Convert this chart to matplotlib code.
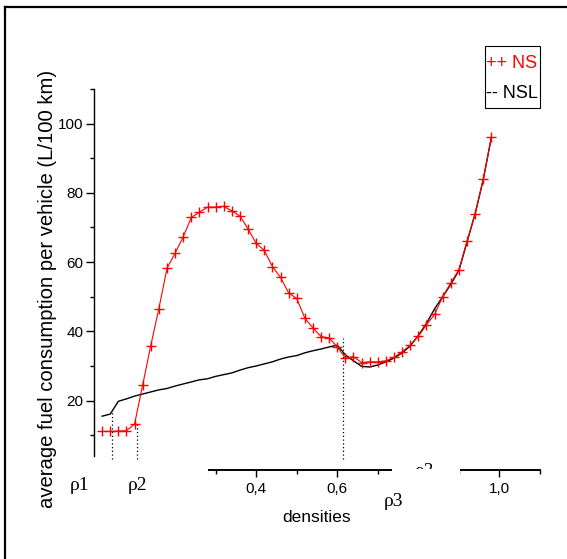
import matplotlib
matplotlib.use("Agg")
import matplotlib.pyplot as plt
from matplotlib.patches import Rectangle
from matplotlib.lines import Line2D
from matplotlib.ticker import FuncFormatter, MultipleLocator

plt.rcParams['font.family'] = ['Liberation Sans', 'DejaVu Sans']

# data
densities = [0.02, 0.04, 0.06, 0.08, 0.10, 0.12, 0.14, 0.16, 0.18, 0.20,
             0.22, 0.24, 0.26, 0.28, 0.30, 0.32, 0.34, 0.36, 0.38, 0.40,
             0.42, 0.44, 0.46, 0.48, 0.50, 0.52, 0.54, 0.56, 0.58, 0.60,
             0.62, 0.64, 0.66, 0.68, 0.70, 0.72, 0.74, 0.76, 0.78, 0.80,
             0.82, 0.84, 0.86, 0.88, 0.90, 0.92, 0.94, 0.96, 0.98]
ns = [11.1, 11.1, 11.2, 11.3, 13.2, 24.5, 35.9, 46.6, 58.2, 62.6,
      67.3, 72.9, 74.4, 75.9, 75.9, 76.1, 74.8, 73.3, 69.6, 65.4,
      63.4, 58.7, 55.6, 51.1, 49.5, 43.8, 41.0, 38.5, 38.1, 35.5,
      32.3, 32.7, 31.0, 31.2, 31.2, 31.5, 32.5, 34.1, 36.0, 38.6,
      41.9, 44.9, 50.0, 54.0, 57.8, 66.0, 73.9, 83.9, 96.0]
nsl = [15.5, 16.1, 19.8, 20.5, 21.3, 21.9, 22.5, 23.1, 23.5, 24.2,
       24.8, 25.4, 26.0, 26.3, 27.0, 27.5, 28.0, 28.8, 29.5, 30.0,
       30.6, 31.2, 32.0, 32.6, 33.0, 33.8, 34.4, 34.9, 35.5, 36.0,
       33.2, 31.5, 29.9, 29.7, 30.3, 31.2, 32.3, 33.8, 35.8, 38.8,
       42.3, 46.5, 50.0, 53.6, 57.6, 65.8, 74.0, 83.8, 96.0]
rho_x = [0.045, 0.105, 0.614]
rho_top = [16.6, 13.4, 38.0]
rho_names = ["\u03c11", "\u03c12", "\u03c13"]
hidden_xlabels = [0.0, 0.2, 0.8]  # these sit under the white patches

W, H = 567, 559
fig = plt.figure(figsize=(W / 100, H / 100), dpi=100)


def fx(px):
    return px / W


def fy(py):
    return 1 - py / H


def xfmt(v, p):
    if any(abs(v - h) < 1e-6 for h in hidden_xlabels):
        return ""
    return f"{v:.1f}".replace('.', ',')


ax = fig.add_axes([fx(94), fy(456), fx(540) - fx(94), fy(89) - fy(456)])
ax.plot(densities, nsl, color='black', lw=1.0, zorder=2)
ax.plot(densities, ns, color='red', lw=0.8, marker='+', markersize=7.5,
        markeredgewidth=1.0, zorder=3)
for x, top in zip(rho_x, rho_top):
    ax.vlines(x, 3.2, top, colors='black', linestyles=(0, (1, 2)), lw=0.9,
              clip_on=False)

ax.set_xlim(0, 1.1)
ax.set_ylim(4, 110)
ax.spines['top'].set_visible(False)
ax.spines['right'].set_visible(False)
ax.spines['left'].set_linewidth(1.0)
ax.spines['bottom'].set_linewidth(1.4)
ax.spines['bottom'].set_position(('outward', 10.3))

ax.xaxis.set_major_locator(MultipleLocator(0.2))
ax.xaxis.set_minor_locator(MultipleLocator(0.1))
ax.yaxis.set_major_locator(MultipleLocator(20))
ax.yaxis.set_minor_locator(MultipleLocator(10))
ax.xaxis.set_major_formatter(FuncFormatter(xfmt))
ax.tick_params(axis='x', which='major', direction='out', length=5, width=1.0,
               labelsize=11, pad=3.5)
ax.tick_params(axis='x', which='minor', direction='out', length=3, width=1.0)
ax.tick_params(axis='y', which='major', direction='out', length=6, width=1.0,
               labelsize=11, pad=1.5)
ax.tick_params(axis='y', which='minor', direction='out', length=3, width=1.0)

# y label placed by hand, its foot is hidden
fig.text(fx(48), fy(70), "average fuel consumption per vehicle (L/100 km)",
         rotation=90, ha='center', va='top', fontsize=14.6, zorder=0.5)
fig.text(fx(317), fy(517), "densities", ha='center', va='center', fontsize=12.5)

# hidden rho under the white box
fig.text(fx(424), fy(472), rho_names[2], ha='center', va='center',
         fontsize=14, family='Liberation Serif', zorder=0.5)

# white covers
for x0, y0, x1, y1 in [(60, 460, 208, 506), (392, 469, 460, 506), (20, 508, 62, 545)]:
    fig.patches.append(Rectangle((fx(x0), fy(y1)), fx(x1) - fx(x0), fy(y0) - fy(y1),
                                 transform=fig.transFigure, facecolor='white',
                                 edgecolor='none', zorder=1))

fig.text(fx(79.5), fy(486), rho_names[0], ha='center', va='center',
         fontsize=14, family='Liberation Serif')
fig.text(fx(137.5), fy(486), rho_names[1], ha='center', va='center',
         fontsize=14, family='Liberation Serif')
fig.text(fx(393.5), fy(501), rho_names[2], ha='center', va='center',
         fontsize=14, family='Liberation Serif')

# legend box
fig.patches.append(Rectangle((fx(485), fy(108)), fx(540) - fx(485), fy(46) - fy(108),
                             transform=fig.transFigure, facecolor='white',
                             edgecolor='black', lw=0.8, zorder=2))
fig.text(fx(486.5), fy(64), "++ NS", color='red', ha='left', va='center', fontsize=13)
fig.text(fx(486.5), fy(93), "-- NSL", color='black', ha='left', va='center', fontsize=13)

# outer frame
fig.lines.append(Line2D([fx(5.3), fx(5.3)], [0, fy(7)], transform=fig.transFigure,
                        color='black', lw=1.6))
fig.lines.append(Line2D([fx(5.3), 1], [fy(7), fy(7)], transform=fig.transFigure,
                        color='black', lw=1.6))

fig.savefig("out.png", dpi=100)
